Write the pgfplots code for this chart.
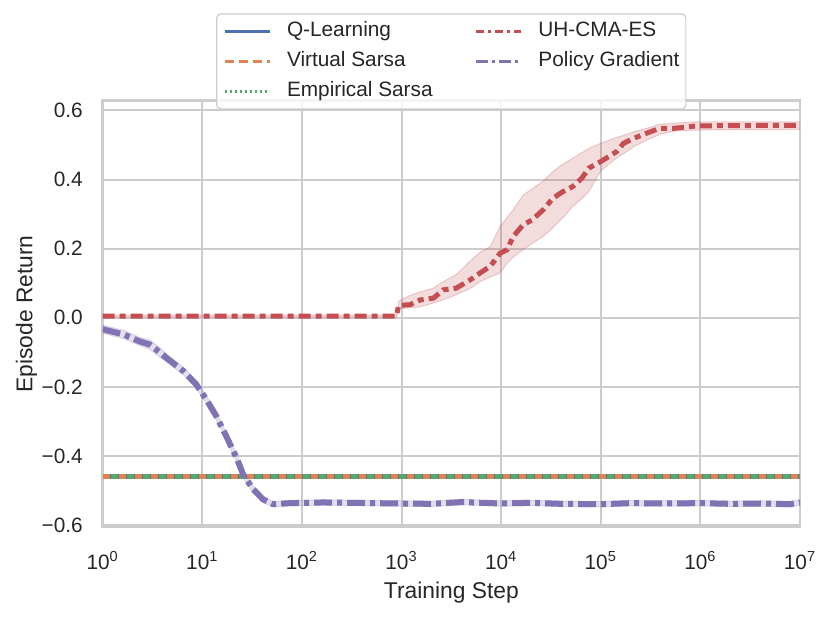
\documentclass[border=0pt]{standalone}
\usepackage{fontspec}
\setmainfont{Liberation Sans}
\usepackage{pgfplots}
\usepackage{pgfplotstable}
\usepgfplotslibrary{fillbetween}
\pgfplotsset{compat=1.18}
\definecolor{sbblue}{HTML}{4C72B0}
\definecolor{sborange}{HTML}{DD8452}
\definecolor{sbgreen}{HTML}{55A868}
\definecolor{sbred}{HTML}{C44E52}
\definecolor{sbpurple}{HTML}{8172B3}
\definecolor{gridgray}{HTML}{CCCCCC}
\definecolor{txt}{HTML}{262626}

\pgfplotstableread{
x m lo hi
1 0.005 0.002 0.008
891.3 0.005 0.002 0.008
933.3 0.036 0.026 0.048
1216.2 0.038 0.029 0.065
1548.8 0.052 0.032 0.075
2089.3 0.057 0.043 0.086
2630.3 0.081 0.052 0.105
3548.1 0.086 0.067 0.125
4897.8 0.110 0.085 0.165
6165.9 0.130 0.105 0.190
7762.5 0.149 0.118 0.206
9772.4 0.187 0.130 0.265
11481.5 0.197 0.158 0.290
13182.6 0.235 0.175 0.312
16595.9 0.269 0.197 0.355
20417.4 0.283 0.215 0.373
26302.7 0.312 0.235 0.395
33113.1 0.346 0.260 0.423
41686.9 0.365 0.290 0.445
52480.7 0.380 0.322 0.462
64565.4 0.404 0.345 0.478
75857.8 0.433 0.365 0.490
100000 0.452 0.425 0.505
144544 0.481 0.462 0.522
169824.4 0.505 0.475 0.528
213796.2 0.519 0.495 0.538
288403.2 0.534 0.514 0.548
389045.1 0.548 0.530 0.560
537031.8 0.548 0.540 0.563
912010.8 0.555 0.543 0.567
1995262.3 0.556 0.544 0.567
10000000 0.557 0.545 0.567
}\cmaes

\pgfplotstableread{
x m lo hi
1 -0.033 -0.045 -0.021
1.62 -0.048 -0.060 -0.036
2.34 -0.068 -0.080 -0.056
2.95 -0.077 -0.091 -0.063
3.6 -0.096 -0.110 -0.082
4.37 -0.116 -0.128 -0.104
6.46 -0.154 -0.165 -0.143
8.71 -0.193 -0.204 -0.182
10.96 -0.236 -0.247 -0.225
13.80 -0.284 -0.295 -0.273
17.38 -0.342 -0.353 -0.331
22.39 -0.409 -0.420 -0.398
25.70 -0.453 -0.463 -0.443
32.36 -0.496 -0.506 -0.486
40.74 -0.525 -0.534 -0.516
51.29 -0.539 -0.547 -0.531
75.86 -0.536 -0.544 -0.528
162.2 -0.534 -0.542 -0.526
524.8 -0.536 -0.544 -0.528
1000 -0.537 -0.545 -0.529
1995 -0.538 -0.546 -0.530
3981 -0.533 -0.541 -0.525
10000 -0.537 -0.545 -0.529
19953 -0.535 -0.543 -0.527
39811 -0.538 -0.546 -0.530
100000 -0.539 -0.547 -0.531
199526 -0.536 -0.544 -0.528
398107 -0.537 -0.545 -0.529
1000000 -0.536 -0.544 -0.528
1995262 -0.538 -0.546 -0.530
3981072 -0.537 -0.545 -0.529
7943282 -0.539 -0.547 -0.531
10000000 -0.534 -0.542 -0.526
}\pg

\begin{document}
\begin{tikzpicture}
\begin{axis}[
  at={(0,0)}, anchor=south west,
  scale only axis, width=348.65pt, height=213.15pt,
  xmode=log, xmin=1, xmax=1e7, ymin=-0.605, ymax=0.628,
  xtick={1,10,100,1000,10000,100000,1000000,10000000},
  xticklabels={10\textsuperscript{0},10\textsuperscript{1},10\textsuperscript{2},10\textsuperscript{3},10\textsuperscript{4},10\textsuperscript{5},10\textsuperscript{6},10\textsuperscript{7}},
  ytick={-0.6,-0.4,-0.2,0,0.2,0.4,0.6},
  yticklabels={−0.6,−0.4,−0.2,0.0,0.2,0.4,0.6},
  minor xtick={},
  tick style={draw=none},
  grid=major,
  major grid style={gridgray, line width=1pt},
  axis line style={gridgray, line width=1.25pt},
  ticklabel style={font=\fontsize{10.4}{12}\selectfont, text=txt},
  xticklabel style={anchor=base, inner sep=0pt, yshift=-21pt},
  yticklabel style={anchor=east, inner sep=0pt, xshift=-9.8pt},
  xlabel={Training Step},
  ylabel={Episode Return},
  label style={font=\fontsize{11.4}{13}\selectfont, text=txt},
  xlabel style={at={(axis description cs:0.5,-0.1666)}, anchor=base},
  ylabel style={at={(axis description cs:-0.101,0.5)}, anchor=base},
  legend image code/.code={\draw[#1] (0pt,0pt) -- (22.5pt,0pt);},
  legend columns=2,
  legend cell align=left,
  legend style={at={(axis description cs:0.5,1.205)}, anchor=north,
    draw=gridgray, line width=0.6pt, rounded corners=2pt,
    fill=white, fill opacity=0.8, text opacity=1,
    font=\fontsize{10.4}{12}\selectfont, text=txt,
    inner xsep=3.2pt, inner ysep=3.5pt, row sep=4.5pt, column sep=8pt,
    nodes={inner sep=0pt, text height=8pt, text depth=2.5pt},
    /tikz/every even column/.append style={column sep=21pt}},
]
% horizontal baselines
\addplot[forget plot, sbblue, line width=2.5pt] coordinates {(1,-0.46) (10000000,-0.46)};
\addplot[forget plot, sborange, line width=2.5pt, dash pattern=on 3.5pt off 4.5pt] coordinates {(1,-0.46) (10000000,-0.46)};
\addplot[forget plot, sbgreen, line width=2.5pt, dash pattern=on 3.5pt off 4.5pt, dash phase=4pt] coordinates {(1,-0.46) (10000000,-0.46)};
% UH-CMA-ES band and mean
\addplot[forget plot, name path=ch, sbred, draw opacity=0.25, line width=0.5pt] table[x=x,y=hi] {\cmaes};
\addplot[forget plot, name path=cl, sbred, draw opacity=0.25, line width=0.5pt] table[x=x,y=lo] {\cmaes};
\addplot[forget plot, sbred, fill opacity=0.2, draw=none] fill between[of=ch and cl];
\addplot[forget plot, sbred, line width=2.5pt, dash pattern=on 6pt off 2.5pt on 3pt off 2.5pt] table[x=x,y=m] {\cmaes};
% Policy gradient band and mean
\addplot[forget plot, name path=ph, sbpurple, draw opacity=0.2, line width=0.5pt] table[x=x,y=hi] {\pg};
\addplot[forget plot, name path=pl, sbpurple, draw opacity=0.2, line width=0.5pt] table[x=x,y=lo] {\pg};
\addplot[forget plot, sbpurple, fill opacity=0.22, draw=none] fill between[of=ph and pl];
\addplot[forget plot, sbpurple, line width=3pt, dash pattern=on 9pt off 2.5pt on 2.5pt off 2.5pt] table[x=x,y=m] {\pg};
% legend
\addlegendimage{sbblue, line width=1.4pt}
\addlegendentry{Q-Learning}
\addlegendimage{sbred, line width=1.4pt, dash pattern=on 4pt off 2pt on 1.5pt off 2pt}
\addlegendentry{UH-CMA-ES}
\addlegendimage{sborange, line width=1.4pt, dash pattern=on 4.5pt off 2.5pt}
\addlegendentry{Virtual Sarsa}
\addlegendimage{sbpurple, line width=1.4pt, dash pattern=on 6pt off 2pt on 1.5pt off 2pt}
\addlegendentry{Policy Gradient}
\addlegendimage{sbgreen, line width=1.4pt, dash pattern=on 1.2pt off 1.3pt}
\addlegendentry{Empirical Sarsa}
\end{axis}
\pgfresetboundingbox
\useasboundingbox (-51.35pt,-45.5pt) rectangle (364.15pt,263.5pt);
\end{tikzpicture}
\end{document}
